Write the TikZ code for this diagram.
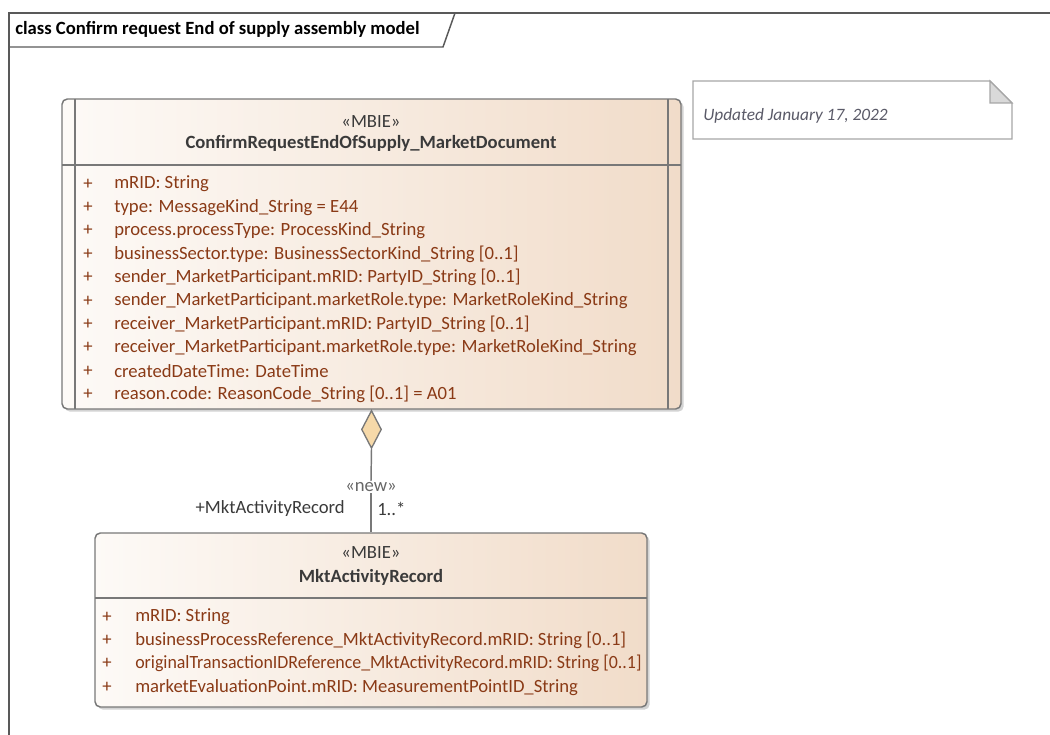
\documentclass[tikz,border=0pt]{standalone}
\usepackage{fontspec}
\setmainfont{Carlito}
\usetikzlibrary{shapes.geometric,shadows}
\definecolor{attrtext}{HTML}{8A3A16}
\definecolor{hdtext}{HTML}{3A3A3A}
\definecolor{boxleft}{HTML}{FDFAF7}
\definecolor{boxright}{HTML}{F1DCC9}
\definecolor{boxline}{HTML}{787878}
\definecolor{aggfill}{HTML}{F6D9A9}
\definecolor{notetext}{HTML}{5A5A68}
\tikzset{
  classbox/.style={draw=boxline, line width=1.1pt, rounded corners=4pt,
    left color=boxleft, right color=boxright,
    drop shadow={shadow xshift=2pt, shadow yshift=-2pt, opacity=.35}},
  sepline/.style={draw=boxline, line width=1pt},
  attr/.style={anchor=west, text=attrtext, inner sep=0pt},
  head/.style={text=hdtext, inner sep=0pt},
  assoc/.style={draw=boxline, line width=1.1pt},
  aggr/.style={draw=boxline, line width=1pt, fill=aggfill, diamond,
    minimum width=15pt, minimum height=28.5pt, inner sep=0pt},
  frameline/.style={draw=black!65, line width=1.1pt}
}
\begin{document}
\begin{tikzpicture}[x=0.75pt, y=-0.75pt, font=\fontsize{14}{17}\selectfont]
  \useasboundingbox (0,0) rectangle (1050,735);
  % diagram frame
  \draw [frameline] (1050,13) -- (9,13) -- (9,735);
  \draw [frameline] (9,47) -- (443,47) -- (455,13);
  \node [anchor=west, inner sep=0pt] (title) at (15,29) {\bfseries class Confirm request End of supply assembly model};

  % note
  \draw [draw=black!35, line width=.9pt, fill=white] (693,81) -- (990,81) -- (1012,103) -- (1012,139) -- (693,139) -- cycle;
  \draw [draw=black!35, line width=.9pt, fill=black!15] (990,81) -- (990,103) -- (1012,103) -- cycle;
  \node [anchor=west, inner sep=0pt, text=notetext, font=\fontsize{13}{16}\selectfont] (note) at (703,116) {\itshape Updated January 17, 2022};

  % market document class
  \node [classbox, minimum width=464.25pt, minimum height=232.5pt] (doc) at (371.5,254) {};
  \draw [sepline] (75,99) -- (75,409);
  \draw [sepline] (668,99) -- (668,409);
  \draw [sepline] (62,165) -- (681,165);
  \node [head] at (371,122) {«MBIE»};
  \node [head] at (371,143) {\bfseries ConfirmRequestEndOfSupply\_MarketDocument};
  \foreach \a [count=\i from 0] in {mRID: String,
      type: MessageKind\_String = E44,
      process.processType: ProcessKind\_String,
      businessSector.type: BusinessSectorKind\_String [0..1],
      sender\_MarketParticipant.mRID: PartyID\_String [0..1],
      sender\_MarketParticipant.marketRole.type: MarketRoleKind\_String,
      receiver\_MarketParticipant.mRID: PartyID\_String [0..1],
      receiver\_MarketParticipant.marketRole.type: MarketRoleKind\_String,
      createdDateTime: DateTime,
      reason.code: ReasonCode\_String [0..1] = A01} {
    \node [attr] at (83,184+23.4*\i) {+};
    \node [attr] at (114,184+23.4*\i) {\a};
  }

  % activity record class
  \node [classbox, minimum width=414pt, minimum height=130.5pt] (rec) at (371,620) {};
  \draw [sepline] (95,598) -- (647,598);
  \node [head] at (371,553) {«MBIE»};
  \node [head] at (371,577) {\bfseries MktActivityRecord};
  \foreach \a [count=\i from 0] in {mRID: String,
      businessProcessReference\_MktActivityRecord.mRID: String [0..1],
      \scalebox{0.958}[1]{originalTransactionIDReference\_MktActivityRecord.mRID: String [0..1]},
      marketEvaluationPoint.mRID: MeasurementPointID\_String} {
    \node [attr] at (102,617+23.4*\i) {+};
    \node [attr] at (135,617+23.4*\i) {\a};
  }

  % aggregation
  \node [aggr, anchor=north] (agg) at (doc.south) {};
  \node [text=black!60, inner sep=1pt] (new) at (371,487) {«new»};
  \draw [assoc] (agg.south) -- (new.north);
  \draw [assoc] (new.south) -- (rec.north);
  \node [anchor=east, head] (role) at (345,509) {+MktActivityRecord};
  \node [anchor=west, head] (mult) at (377,509) {1..*};
\end{tikzpicture}
\end{document}
